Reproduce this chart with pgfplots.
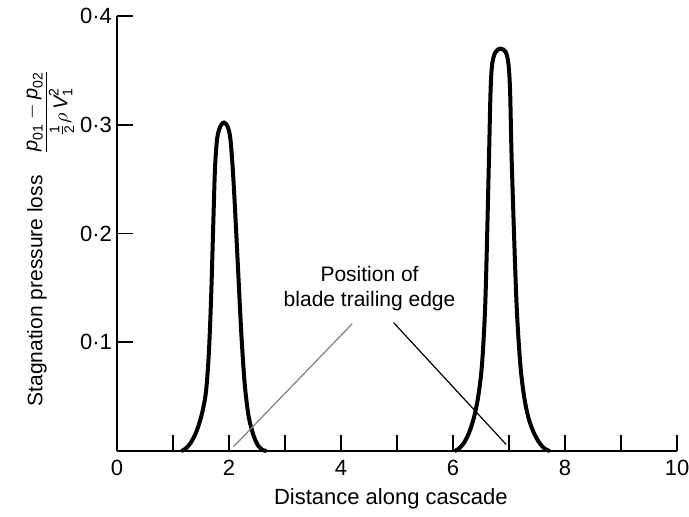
\documentclass[border=0pt]{standalone}
\usepackage{amsmath}
\usepackage{fontspec}
\setmainfont{Liberation Sans}
\usepackage{pgfplots}
\pgfplotsset{compat=1.18}

% Stagnation pressure loss traverse behind a blade cascade
\pgfplotstableread{
x     y
1.15  0.000
1.22  0.002
1.31  0.007
1.42  0.018
1.52  0.035
1.59  0.055
1.64  0.090
1.68  0.140
1.72  0.210
1.75  0.260
1.79  0.288
1.85  0.299
1.91  0.302
1.97  0.299
2.02  0.289
2.06  0.265
2.10  0.230
2.16  0.169
2.22  0.108
2.28  0.062
2.35  0.032
2.44  0.014
2.52  0.005
2.60  0.001
2.67  0.000
}\wakeA

\pgfplotstableread{
x     y
6.03  0.000
6.10  0.002
6.19  0.007
6.28  0.016
6.37  0.030
6.45  0.050
6.52  0.081
6.58  0.141
6.64  0.264
6.67  0.330
6.70  0.356
6.76  0.367
6.85  0.370
6.94  0.367
6.99  0.356
7.02  0.330
7.05  0.264
7.13  0.141
7.20  0.081
7.27  0.050
7.35  0.030
7.45  0.016
7.55  0.007
7.64  0.002
7.73  0.000
}\wakeB

\begin{document}
\begin{tikzpicture}
\begin{axis}[
  scale only axis,
  width=280pt, height=217.5pt,
  xmin=0, xmax=10, ymin=0, ymax=0.4,
  axis lines=left,
  axis line style={-, line width=0.9pt},
  tick align=inside,
  major tick length=8pt, minor tick length=8pt,
  every tick/.style={line width=0.8pt, black},
  xtick={0,2,4,6,8,10},
  xticklabels={0,2,4,6,8,10},
  minor xtick={1,3,5,7,9},
  ytick={0.1,0.2,0.3,0.4},
  yticklabels={0{\textperiodcentered}1,0{\textperiodcentered}2,0{\textperiodcentered}3,0{\textperiodcentered}4},
  ticklabel style={font=\fontsize{11}{13}\selectfont},
  yticklabel style={xshift=1pt},
  xticklabel style={yshift=-1pt},
  clip=false,
]
\addplot[line width=2pt, smooth, tension=0.5] table {\wakeA};
\addplot[line width=2pt, smooth, tension=0.5] table {\wakeB};

% leader lines to the trailing edge positions
\addplot[gray, line width=0.6pt] coordinates {(2.08,0.004) (4.20,0.117)};
\addplot[black, line width=0.6pt] coordinates {(4.94,0.118) (6.95,0.006)};

\node[align=center, font=\fontsize{10.5}{12.5}\selectfont]
  at (axis cs:4.51,0.149) {Position of\\blade trailing edge};

\node[font=\fontsize{11}{13}\selectfont, yshift=-24pt]
  at (rel axis cs:0.489,0) {Distance along cascade};

\node[xshift=-40pt, rotate=90, font=\fontsize{10.5}{12.5}\selectfont]
  at (rel axis cs:0,0.368) {Stagnation pressure loss};

\node[xshift=-33.5pt, rotate=90, font=\fontsize{10}{12}\selectfont]
  at (rel axis cs:0,0.78)
  {$\dfrac{\textit{p}_{\text{01}}-\textit{p}_{\text{02}}}{\frac{\text{1}}{\text{2}}\rho\,\textit{V}_{\text{1}}^{\text{2}}}$};
\end{axis}
\pgfresetboundingbox
\useasboundingbox (-58.5pt,-32.5pt) rectangle (286pt,225.5pt);
\end{tikzpicture}
\end{document}
